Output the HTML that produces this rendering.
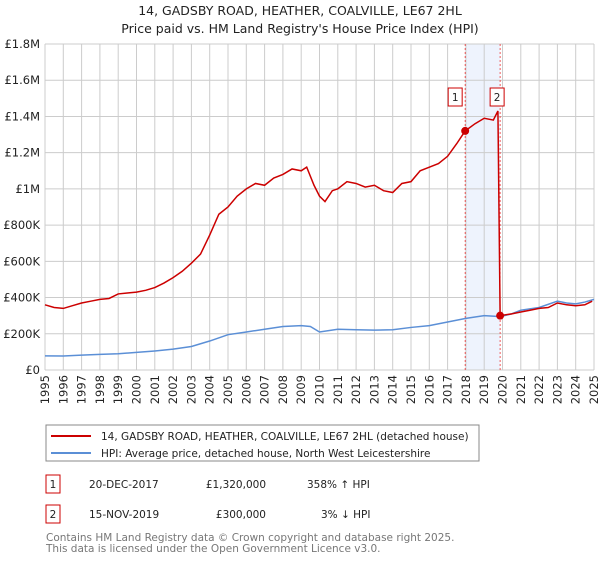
<!DOCTYPE html>
<html><head><meta charset="utf-8"><style>
body{margin:0;background:#fff;font-family:"Liberation Sans","DejaVu Sans",sans-serif;}
svg text{font-family:"DejaVu Sans","Liberation Sans",sans-serif;}
</style></head><body>
<svg id="c" width="600" height="560" xmlns="http://www.w3.org/2000/svg">
<text x="300" y="15" text-anchor="middle" font-size="12.5" fill="#222">14, GADSBY ROAD, HEATHER, COALVILLE, LE67 2HL</text>
<text x="300" y="33" text-anchor="middle" font-size="12.5" fill="#222">Price paid vs. HM Land Registry's House Price Index (HPI)</text>
<g id="grid"></g><g id="plot"></g><g id="axes"></g>
<rect x="46" y="425" width="433" height="36" fill="#fff" stroke="#888"/>
<line x1="51" y1="436" x2="91" y2="436" stroke="#cc0000" stroke-width="2"/>
<text x="101" y="440" font-size="10.5" fill="#222">14, GADSBY ROAD, HEATHER, COALVILLE, LE67 2HL (detached house)</text>
<line x1="51" y1="453" x2="91" y2="453" stroke="#5b8fd6" stroke-width="2"/>
<text x="101" y="457" font-size="10.5" fill="#222">HPI: Average price, detached house, North West Leicestershire</text>
<rect x="46" y="475" width="14" height="18" fill="#fff" stroke="#cc0000"/>
<text x="53" y="488" text-anchor="middle" font-size="10.5" fill="#222">1</text>
<text x="89" y="488" font-size="10.5" fill="#222">20-DEC-2017</text>
<text x="266" y="488" text-anchor="end" font-size="10.5" fill="#222">£1,320,000</text>
<text x="307" y="488" font-size="10.5" fill="#222">358% ↑ HPI</text>
<rect x="46" y="505" width="14" height="18" fill="#fff" stroke="#cc0000"/>
<text x="53" y="518" text-anchor="middle" font-size="10.5" fill="#222">2</text>
<text x="89" y="518" font-size="10.5" fill="#222">15-NOV-2019</text>
<text x="266" y="518" text-anchor="end" font-size="10.5" fill="#222">£300,000</text>
<text x="321" y="518" font-size="10.5" fill="#222">3% ↓ HPI</text>
<text x="46" y="541" font-size="10.5" fill="#777">Contains HM Land Registry data © Crown copyright and database right 2025.</text>
<text x="46" y="552" font-size="10.5" fill="#777">This data is licensed under the Open Government Licence v3.0.</text>
</svg>
<script>
const yTicks=[0,200000,400000,600000,800000,1000000,1200000,1400000,1600000,1800000];
const yTickLabels=["£0","£200K","£400K","£600K","£800K","£1M","£1.2M","£1.4M","£1.6M","£1.8M"];
const xYears=[1995,1996,1997,1998,1999,2000,2001,2002,2003,2004,2005,2006,2007,2008,2009,2010,2011,2012,2013,2014,2015,2016,2017,2018,2019,2020,2021,2022,2023,2024,2025];
const propT=[1995,1995.5,1996,1996.5,1997,1997.5,1998,1998.5,1999,1999.5,2000,2000.5,2001,2001.5,2002,2002.5,2003,2003.5,2004,2004.5,2005,2005.5,2006,2006.5,2007,2007.5,2008,2008.5,2009,2009.3,2009.7,2010,2010.3,2010.7,2011,2011.5,2012,2012.5,2013,2013.5,2014,2014.5,2015,2015.5,2016,2016.5,2017,2017.5,2017.96,2018.5,2019,2019.5,2019.75,2019.87,2020.5,2021,2021.5,2022,2022.5,2023,2023.5,2024,2024.5,2024.9];
const propV=[360000,345000,340000,355000,370000,380000,390000,395000,420000,425000,430000,440000,455000,480000,510000,545000,590000,640000,745000,860000,900000,960000,1000000,1030000,1020000,1060000,1080000,1110000,1100000,1120000,1020000,960000,930000,990000,1000000,1040000,1030000,1010000,1020000,990000,980000,1030000,1040000,1100000,1120000,1140000,1180000,1250000,1320000,1360000,1390000,1380000,1430000,300000,310000,320000,330000,340000,345000,370000,360000,355000,360000,380000];
const hpiT=[1995,1996,1997,1998,1999,2000,2001,2002,2003,2004,2005,2006,2007,2008,2009,2009.5,2010,2011,2012,2013,2014,2015,2016,2017,2018,2019,2019.9,2020.5,2021,2022,2023,2023.5,2024,2024.5,2025];
const hpiV=[78000,77000,82000,86000,90000,97000,105000,115000,130000,160000,195000,210000,225000,240000,245000,240000,210000,225000,222000,220000,222000,235000,245000,265000,285000,300000,295000,310000,330000,345000,380000,370000,365000,375000,390000];
const sales=[{t:2017.96,v:1320000,n:"1"},{t:2019.87,v:300000,n:"2"}];
const L=45,R=594,T=44,B=370,X0=1995,X1=2025,YMAX=1800000;
const sx=t=>L+(t-X0)/(X1-X0)*(R-L), sy=v=>B-v/YMAX*(B-T);
const NS="http://www.w3.org/2000/svg";
function mk(p,tag,a){const e=document.createElementNS(NS,tag);for(const k in a)e.setAttribute(k,a[k]);p.appendChild(e);return e;}
const grid=document.getElementById('grid'),plot=document.getElementById('plot'),axes=document.getElementById('axes');
const sh=mk(grid,'rect',{x:sx(sales[0].t),y:T,width:sx(sales[1].t)-sx(sales[0].t),height:B-T,fill:'#eef3fd'});


yTicks.forEach((v,i)=>{
 const g=mk(grid,'line',{x1:L,x2:R,y1:sy(v),y2:sy(v),stroke:'#ccc'});
 
 
 const t=mk(axes,'text',{x:L-5,y:sy(v)+4,'text-anchor':'end','font-size':'11.5',fill:'#222'});
 t.textContent=yTickLabels[i];
 
 
});
xYears.forEach(y=>{
 const g=mk(grid,'line',{x1:sx(y),x2:sx(y),y1:T,y2:B,stroke:'#ccc'});
 
 
 const t=mk(axes,'text',{x:0,y:0,'text-anchor':'end','font-size':'11.5',fill:'#222',transform:`translate(${sx(y)+4},${B+5}) rotate(-90)`});
 t.textContent=y;
 
 
});
sales.forEach(s=>{
 const d=mk(plot,'line',{x1:sx(s.t),x2:sx(s.t),y1:T,y2:B,stroke:'#e33','stroke-dasharray':'2,2','stroke-width':'0.8'});
 
 
});
const hp=mk(plot,'polyline',{points:hpiT.map((t,i)=>sx(t)+','+sy(hpiV[i])).join(' '),fill:'none',stroke:'#5b8fd6','stroke-width':'1.5'});


const pp=mk(plot,'polyline',{points:propT.map((t,i)=>sx(t)+','+sy(propV[i])).join(' '),fill:'none',stroke:'#cc0000','stroke-width':'1.5'});


sales.forEach((s,i)=>{
 const c=mk(plot,'circle',{cx:sx(s.t),cy:sy(s.v),r:4,fill:'#cc0000'});
 
 
 const bx=sx(s.t)-(i==0?10:3)-7;
 const r=mk(plot,'rect',{x:bx,y:88,width:14,height:18,fill:'#fff',stroke:'#cc0000'});
 
 
 const t=mk(plot,'text',{x:bx+7,y:101,'text-anchor':'middle','font-size':'10.5',fill:'#222'});
 t.textContent=s.n;
 
 
});
</script>
</body></html>
